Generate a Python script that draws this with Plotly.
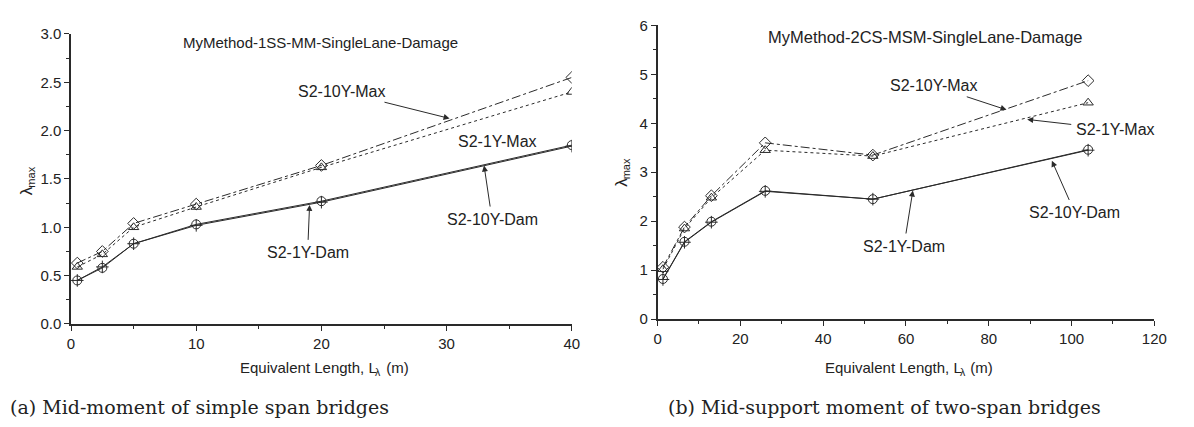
import plotly.graph_objects as go

W, H = 1194, 427

# ---------------- data ----------------
xa = [0.5, 2.5, 5, 10, 20, 40]
a_10y_max = [0.63, 0.75, 1.04, 1.24, 1.64, 2.55]
a_1y_max = [0.59, 0.72, 1.00, 1.21, 1.62, 2.40]
a_10y_dam = [0.45, 0.59, 0.83, 1.02, 1.26, 1.84]
a_1y_dam = [0.45, 0.58, 0.83, 1.03, 1.27, 1.85]

xb = [1.3, 6.5, 13, 26, 52, 104]
b_10y_max = [1.06, 1.88, 2.52, 3.60, 3.35, 4.87]
b_1y_max = [1.02, 1.85, 2.48, 3.45, 3.33, 4.42]
b_10y_dam = [0.81, 1.57, 1.98, 2.61, 2.45, 3.45]
b_1y_dam = [0.82, 1.58, 1.99, 2.62, 2.45, 3.46]

titles = ["MyMethod-1SS-MM-SingleLane-Damage", "MyMethod-2CS-MSM-SingleLane-Damage"]
captions = ["(a) Mid-moment of simple span bridges", "(b) Mid-support moment of two-span bridges"]
series_names = ["S2-10Y-Max", "S2-1Y-Max", "S2-10Y-Dam", "S2-1Y-Dam"]
xtitle_main, xtitle_sub, xtitle_end = "Equivalent Length, L", "λ", " (m)"
ytitle_main, ytitle_sub = "λ", "max"

INK = "#2a2a2a"
SANS = "Liberation Sans, Arial, sans-serif"
SERIF = "DejaVu Serif, Liberation Serif, serif"

fig = go.Figure()

styles = [
    dict(dash="dashdot", symbol="diamond-open"),
    dict(dash="dot", symbol="triangle-up-open"),
    dict(dash="solid", symbol="cross-thin-open"),
    dict(dash="solid", symbol="circle-open"),
]

for (xv, ys, xax, yax) in [
    (xa, [a_10y_max, a_1y_max, a_10y_dam, a_1y_dam], "x", "y"),
    (xb, [b_10y_max, b_1y_max, b_10y_dam, b_1y_dam], "x2", "y2"),
]:
    for name, yv, st in zip(series_names, ys, styles):
        fig.add_trace(go.Scatter(
            x=xv, y=yv, name=name, mode="lines+markers",
            xaxis=xax, yaxis=yax, showlegend=False,
            line=dict(color=INK, width=1, dash=st["dash"]),
            marker=dict(symbol=st["symbol"], size=9, color=INK,
                        line=dict(color=INK, width=1)),
        ))

def px(x):
    return x / W

def py(y):
    return 1 - y / H

axis_common = dict(
    showline=True, linecolor=INK, linewidth=1.5, mirror=False,
    showgrid=False, zeroline=False, ticks="outside", ticklen=5,
    tickwidth=1, tickcolor=INK,
    tickfont=dict(family=SANS, size=15, color="#222"),
    minor=dict(ticks="outside", ticklen=3, tickcolor=INK, tickwidth=1),
)

fig.update_layout(
    width=W, height=H, margin=dict(l=0, r=0, t=0, b=0),
    paper_bgcolor="white", plot_bgcolor="white",
    xaxis=dict(domain=[px(68), px(576)], range=[0, 40], dtick=10,
               minor_dtick=5, anchor="y", **axis_common),
    yaxis=dict(domain=[py(328), py(26)], range=[0, 3], dtick=0.5,
               tickformat=".1f", minor_dtick=0.25, anchor="x", **axis_common),
    xaxis2=dict(domain=[px(663), px(1167)], range=[0, 120], dtick=20,
                minor_dtick=10, anchor="y2", **axis_common),
    yaxis2=dict(domain=[py(323), py(17)], range=[0, 6], dtick=1,
                minor_dtick=0.5, anchor="x2", **axis_common),
)

ann = []

def text(x, y, t, size=16, font=SANS, angle=0, xanchor="center"):
    ann.append(dict(x=px(x), y=py(y), xref="paper", yref="paper", text=t,
                    showarrow=False, textangle=angle,
                    font=dict(family=font, size=size, color="#222"),
                    xanchor=xanchor, yanchor="middle"))

def label(tx, ty, t, hx, hy, size=16):
    # label centred at (tx, ty) with an arrow pointing to (hx, hy)
    ann.append(dict(x=px(hx), y=py(hy), xref="paper", yref="paper", text=t,
                    showarrow=True, ax=tx - hx, ay=ty - hy,
                    font=dict(family=SANS, size=size, color="#222"),
                    arrowhead=2, arrowsize=1.2, arrowwidth=1, arrowcolor=INK,
                    standoff=0, startstandoff=3))

# panel titles
text(321, 35, titles[0], size=15)
text(935, 29, titles[1], size=16.5)

# left panel labels
label(344, 87, series_names[0], 452, 114)
label(501, 137, series_names[1], 503, 108)
label(495, 217, series_names[2], 487, 163)
label(308, 252, series_names[3], 310, 204)

# right panel labels
label(944, 81, series_names[0], 1017, 105)
label(1126, 125, series_names[1], 1038, 115)
label(1086, 210, series_names[2], 1063, 158)
label(913, 245, series_names[3], 922, 189)

# y-axis titles: lambda with subscript "max" (rotated)
def ytitle(x, y):
    text(x, y + 8, ytitle_main, size=17, angle=-90)
    text(x + 4, y - 6, ytitle_sub, size=11, angle=-90)

ytitle(23, 181)
ytitle(627, 173)

# x-axis titles: "Equivalent Length, L_lambda (m)"
def xtitle(cx, y, size=15):
    w_main = 9.117 * size
    w_end = 1.777 * size
    w_sub = 0.55 * size * 0.7
    left = cx - (w_main + w_sub + w_end) / 2
    text(left, y, xtitle_main, size=size, xanchor="left")
    text(left + w_main + 0.5, y + 5, xtitle_sub, size=size * 0.7, xanchor="left")
    text(left + w_main + w_sub + 1, y, xtitle_end, size=size, xanchor="left")

xtitle(322, 373)
xtitle(915, 373)

# captions
text(198, 414, captions[0], size=19, font=SERIF)
text(893, 414, captions[1], size=19, font=SERIF)

fig.update_layout(annotations=ann)
fig.write_html("out.html")
